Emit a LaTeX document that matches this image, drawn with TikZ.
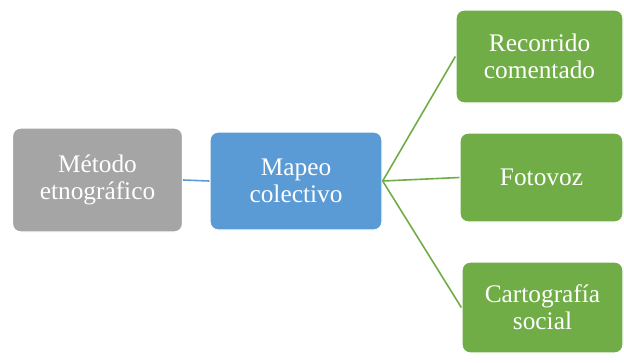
\documentclass[tikz,border=0pt]{standalone}
\usepackage{fontspec}
\setmainfont{Liberation Serif}
\definecolor{cgray}{HTML}{A5A5A5}
\definecolor{cblue}{HTML}{5B9BD5}
\definecolor{cgreen}{HTML}{70AD47}
\tikzset{
  box/.style={draw=white, line width=1pt, rounded corners=6pt, inner sep=0pt,
    align=center, text=white, font=\fontsize{19}{20}\selectfont},
  link/.style={line width=1.2pt}
}
\begin{document}
\begin{tikzpicture}[x=0.75pt,y=-0.75pt]
\useasboundingbox (0,0) rectangle (624,362);
\node[box, fill=cgray, minimum width=127.5pt, minimum height=78pt] (m) at (97.5,180) {Método\\etnográfico};
\node[box, fill=cblue, minimum width=129pt, minimum height=73.5pt] (c) at (296,181) {Mapeo\\colectivo};
\node[box, fill=cgreen, minimum width=125.25pt, minimum height=69.75pt] (r) at (539.5,56.5) {Recorrido\\comentado};
\node[box, fill=cgreen, minimum width=122.25pt, minimum height=66.75pt] (f) at (541.5,177.5) {Fotovoz};
\node[box, fill=cgreen, minimum width=120.75pt, minimum height=68.25pt] (s) at (542.5,307.5) {Cartografía\\social};
\draw[link, cblue] (m.east) -- (c.west);
\draw[link, cgreen] (c.east) -- (r.west);
\draw[link, cgreen] (c.east) -- (f.west);
\draw[link, cgreen] (c.east) -- (s.west);
\end{tikzpicture}
\end{document}
